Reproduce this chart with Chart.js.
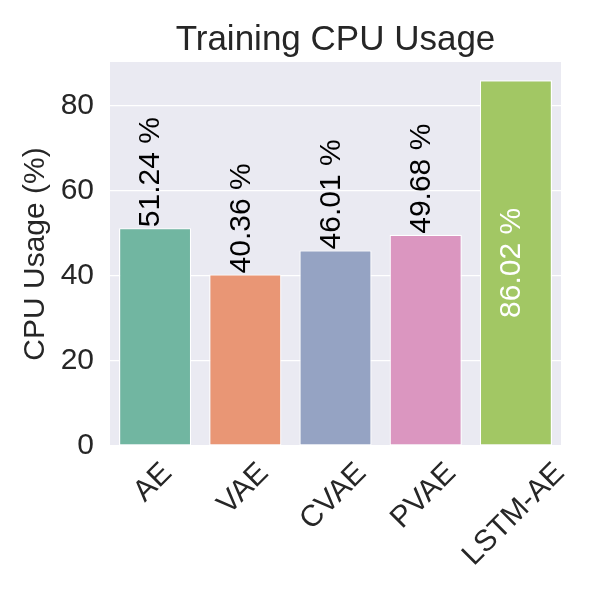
<!DOCTYPE html>
<html><head><meta charset="utf-8">
<script src="https://cdn.jsdelivr.net/npm/chart.js@4"></script>
<style>html,body{margin:0;padding:0;background:#fff}#wrap{width:600px;height:600px}</style>
</head><body><div id="wrap"><canvas id="c" width="600" height="600"></canvas></div>
<script>
const categories = ['AE', 'VAE', 'CVAE', 'PVAE', 'LSTM-AE'];
const cpuUsage = [51.24, 40.36, 46.01, 49.68, 86.02];
const barColors = ['#71b6a1', '#e99675', '#95a3c3', '#db96c0', '#a2c764'];
const labelInside = [false, false, false, false, true];
const yTicks = [0, 20, 40, 60, 80];
const yMax = 90.32;
const chartTitle = 'Training CPU Usage';
const yAxisTitle = 'CPU Usage (%)';

const FONT = "'Liberation Sans', Arial, Helvetica, sans-serif";
const INK = '#262626';
const TICK_SIZE = 30;

const bgPlugin = {
  id: 'plotBg',
  beforeDraw(chart) {
    const { ctx, chartArea: a } = chart;
    ctx.save();
    ctx.fillStyle = '#eaeaf2';
    ctx.fillRect(a.left, a.top, a.right - a.left, a.bottom - a.top);
    ctx.restore();
  }
};

const xLabelPlugin = {
  id: 'xLabels',
  afterDraw(chart) {
    const ctx = chart.ctx, xs = chart.scales.x, a = chart.chartArea;
    ctx.save();
    ctx.font = TICK_SIZE + 'px ' + FONT;
    ctx.fillStyle = INK;
    ctx.textAlign = 'center';
    ctx.textBaseline = 'middle';
    categories.forEach((lab, i) => {
      const x = xs.getPixelForTick(i);
      const w = ctx.measureText(lab).width;
      const half = (w + 0.716 * TICK_SIZE) / Math.SQRT2 / 2;
      ctx.save();
      ctx.translate(x - 2, a.bottom + 15 + half);
      ctx.rotate(-Math.PI / 4);
      ctx.fillText(lab, 0, 0);
      ctx.restore();
    });
    ctx.restore();
  }
};

const barLabelPlugin = {
  id: 'barLabels',
  afterDatasetsDraw(chart) {
    const ctx = chart.ctx;
    const meta = chart.getDatasetMeta(0);
    ctx.save();
    ctx.font = TICK_SIZE + 'px ' + FONT;
    ctx.textBaseline = 'middle';
    meta.data.forEach((bar, i) => {
      const txt = cpuUsage[i].toFixed(2) + ' %';
      const inside = labelInside[i];
      ctx.save();
      ctx.translate(bar.x - 4, inside ? (bar.y + bar.base) / 2 : bar.y - 1);
      ctx.rotate(-Math.PI / 2);
      ctx.textAlign = inside ? 'center' : 'left';
      ctx.fillStyle = inside ? '#ffffff' : '#000000';
      ctx.fillText(txt, 0, 0);
      ctx.restore();
    });
    ctx.restore();
  }
};

new Chart(document.getElementById('c'), {
  type: 'bar',
  data: {
    labels: categories,
    datasets: [{
      data: cpuUsage,
      backgroundColor: barColors,
      borderColor: '#ffffff',
      borderWidth: 1.2,
      borderSkipped: false,
      barPercentage: 0.8,
      categoryPercentage: 1.0
    }]
  },
  options: {
    responsive: false,
    animation: false,
    devicePixelRatio: 1,
    layout: { padding: { left: 0, right: 39, top: 0, bottom: 0 } },
    plugins: {
      legend: { display: false },
      tooltip: { enabled: false },
      title: {
        display: true,
        text: chartTitle,
        color: INK,
        fullSize: false,
        font: { family: FONT, size: 35, weight: 'normal' },
        padding: { top: 19, bottom: 1 }
      }
    },
    scales: {
      x: {
        type: 'category',
        offset: true,
        grid: { display: false, drawTicks: false },
        border: { display: false },
        ticks: { display: false },
        afterFit(s) { s.height = 154; }
      },
      y: {
        min: 0,
        max: yMax,
        grid: { color: '#ffffff', lineWidth: 1.2, drawTicks: false },
        border: { display: false },
        afterBuildTicks(s) { s.ticks = yTicks.map(v => ({ value: v })); },
        ticks: {
          padding: 16,
          color: INK,
          font: { family: FONT, size: TICK_SIZE },
          callback: v => String(v)
        },
        title: {
          display: true,
          text: yAxisTitle,
          color: INK,
          font: { family: FONT, size: 30 },
          padding: { top: 18, bottom: 0 }
        },
        afterFit(s) { s.width = 110; }
      }
    }
  },
  plugins: [bgPlugin, barLabelPlugin, xLabelPlugin]
});
</script>
</body></html>
